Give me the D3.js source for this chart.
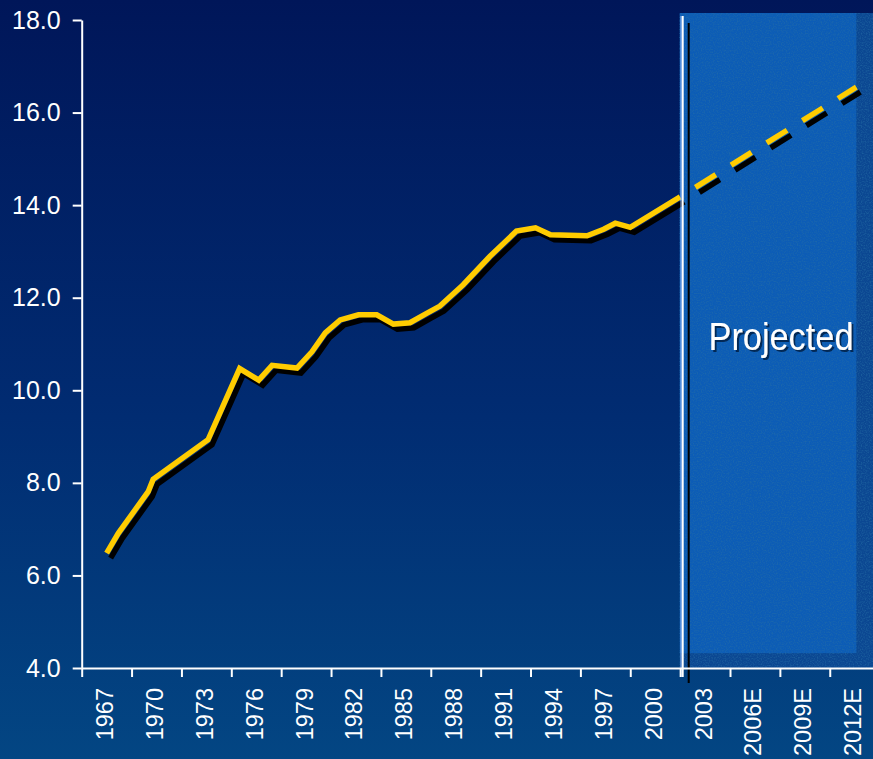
<!DOCTYPE html>
<html>
<head>
<meta charset="utf-8">
<script src="https://cdn.jsdelivr.net/npm/d3@7/dist/d3.min.js"></script>
<style>
  html, body { margin: 0; padding: 0; background: #001659; }
  svg { display: block; }
  text { font-family: "Liberation Sans", Arial, sans-serif; }
</style>
</head>
<body>
<div id="chart"></div>
<script>
// ---- data ----
const obsYears  = [1967.0, 1967.7, 1969.5, 1969.8, 1973.1, 1975.0, 1976.15, 1976.95, 1978.45, 1979.35,
                   1980.15, 1981.05, 1982.15, 1983.25, 1984.25, 1985.25, 1986.25, 1987.05, 1988.45, 1990.05,
                   1991.65, 1992.8, 1993.7, 1995.9, 1996.9, 1997.6, 1998.5, 2001.5];
const obsValues = [6.48, 6.91, 7.81, 8.08, 8.93, 10.47, 10.22, 10.54, 10.48, 10.83,
                   11.24, 11.52, 11.63, 11.63, 11.43, 11.46, 11.66, 11.82, 12.28, 12.89,
                   13.44, 13.51, 13.36, 13.34, 13.48, 13.61, 13.52, 14.18];
const projYears  = [2001.5, 2012.1];
const projValues = [14.18, 16.55];
const xLabels = ["1967","1970","1973","1976","1979","1982","1985","1988","1991","1994","1997","2000","2003","2006E","2009E","2012E"];
const xLabelYears = [1967,1970,1973,1976,1979,1982,1985,1988,1991,1994,1997,2000,2003,2006,2009,2012];
const xTickYears = [1965.5,1968.5,1971.5,1974.5,1977.5,1980.5,1983.5,1986.5,1989.5,1992.5,1995.5,1998.5,2001.5,2004.5,2007.5,2010.5];
const yTicks = [4,6,8,10,12,14,16,18];
const projectedLabel = "Projected";
const projStartYear = 2001.6;

// ---- layout ----
const W = 873, H = 759;
const x = d3.scaleLinear().domain([1965.5, 2013.5]).range([81.7, 81.7 + 16 * 49.87]);
const y = d3.scaleLinear().domain([4, 18]).range([668, 20]);

const svg = d3.select("#chart").append("svg").attr("width", W).attr("height", H);
const defs = svg.append("defs");

const bg = defs.append("linearGradient").attr("id", "bg").attr("x1", 0).attr("y1", 0).attr("x2", 0).attr("y2", 1);
bg.append("stop").attr("offset", "0%").attr("stop-color", "#001659");
bg.append("stop").attr("offset", "55%").attr("stop-color", "#012c72");
bg.append("stop").attr("offset", "100%").attr("stop-color", "#034683");

const boxX = x(projStartYear) - 2, boxTop = 13;
const f = defs.append("filter").attr("id", "speckle").attr("filterUnits", "userSpaceOnUse")
  .attr("x", boxX).attr("y", boxTop).attr("width", W - boxX).attr("height", y(4) - boxTop);
f.append("feTurbulence").attr("type", "fractalNoise").attr("baseFrequency", 0.75).attr("numOctaves", 1).attr("seed", 7);
f.append("feColorMatrix").attr("type", "matrix")
  .attr("values", "0 0 0 0 0.02  0 0 0 0 0.16  0 0 0 0 0.38  3 0 0 0 -1.3");

const ds = defs.append("filter").attr("id", "tshadow").attr("x", "-10%").attr("y", "-20%").attr("width", "130%").attr("height", "150%");
ds.append("feDropShadow").attr("dx", 2).attr("dy", 2).attr("stdDeviation", 0.6)
  .attr("flood-color", "#001a44").attr("flood-opacity", 0.85);

svg.append("rect").attr("width", W).attr("height", H).attr("fill", "url(#bg)");

// projected region
svg.append("rect").attr("x", boxX).attr("y", boxTop).attr("width", W - boxX).attr("height", y(4) - boxTop)
  .attr("fill", "#0b4792");
svg.append("rect").attr("x", boxX).attr("y", boxTop).attr("width", x(2012.1) - boxX).attr("height", y(4.32) - boxTop)
  .attr("fill", "#0c5cb6");
svg.append("rect").attr("x", boxX).attr("y", boxTop).attr("width", W - boxX).attr("height", y(4) - boxTop)
  .attr("fill", "#000").attr("filter", "url(#speckle)").attr("opacity", 0.55);

// observed line
const line = d3.line().x(d => x(d[0])).y(d => y(d[1]));
const obs = obsYears.map((yr, i) => [yr, obsValues[i]]);
const proj = projYears.map((yr, i) => [yr, projValues[i]]);

svg.append("path").datum(obs).attr("d", line).attr("transform", "translate(4,5)")
  .attr("fill", "none").attr("stroke", "#000").attr("stroke-width", 5.5).attr("stroke-linejoin", "miter");
svg.append("path").datum(obs).attr("d", line)
  .attr("fill", "none").attr("stroke", "#ffcc00").attr("stroke-width", 5.5).attr("stroke-linejoin", "miter");

// divider lines
svg.append("line").attr("x1", 681).attr("x2", 681).attr("y1", 16).attr("y2", 677)
  .attr("stroke", "#8fb8ff").attr("stroke-width", 1);
svg.append("line").attr("x1", 682.7).attr("x2", 682.7).attr("y1", 16).attr("y2", 677)
  .attr("stroke", "#fff").attr("stroke-width", 2);
svg.append("line").attr("x1", 688.7).attr("x2", 688.7).attr("y1", 23).attr("y2", 683)
  .attr("stroke", "#000").attr("stroke-width", 2);

// projected dashed line
svg.append("path").datum(proj).attr("d", line).attr("transform", "translate(4,5)")
  .attr("fill", "none").attr("stroke", "#000").attr("stroke-width", 5.5)
  .attr("stroke-dasharray", "24 18").attr("stroke-dashoffset", 24);
svg.append("path").datum(proj).attr("d", line)
  .attr("fill", "none").attr("stroke", "#ffcc00").attr("stroke-width", 5.5)
  .attr("stroke-dasharray", "24 18").attr("stroke-dashoffset", 24);

// axes
const yAxis = svg.append("g").attr("transform", "translate(81.7,0)")
  .call(d3.axisLeft(y).tickValues(yTicks).tickSize(9).tickSizeOuter(0).tickPadding(12).tickFormat(d3.format(".1f")));
const xAxis = svg.append("g").attr("transform", `translate(0,${y(4)})`)
  .call(d3.axisBottom(x).tickValues(xTickYears).tickSize(9).tickSizeOuter(0).tickFormat(""));
[yAxis, xAxis].forEach(a => {
  a.selectAll("path, line").attr("stroke", "#fff").attr("stroke-width", 2);
  a.selectAll("text").attr("fill", "#fff").attr("font-size", 25)
    .attr("font-family", "'Liberation Sans', Arial, sans-serif");
});

svg.append("g").selectAll("text").data(xLabels).join("text")
  .attr("transform", (d, i) => `translate(${x(xLabelYears[i]) + 6.5},688) rotate(-90)`)
  .attr("text-anchor", "end").attr("fill", "#fff").attr("font-size", 23.5)
  .text(d => d);

// Projected label
svg.append("text").attr("x", 781).attr("y", 350).attr("text-anchor", "middle")
  .attr("font-size", 38).attr("textLength", 145).attr("lengthAdjust", "spacingAndGlyphs")
  .attr("fill", "#fff").attr("filter", "url(#tshadow)").text(projectedLabel);
</script>
</body>
</html>
